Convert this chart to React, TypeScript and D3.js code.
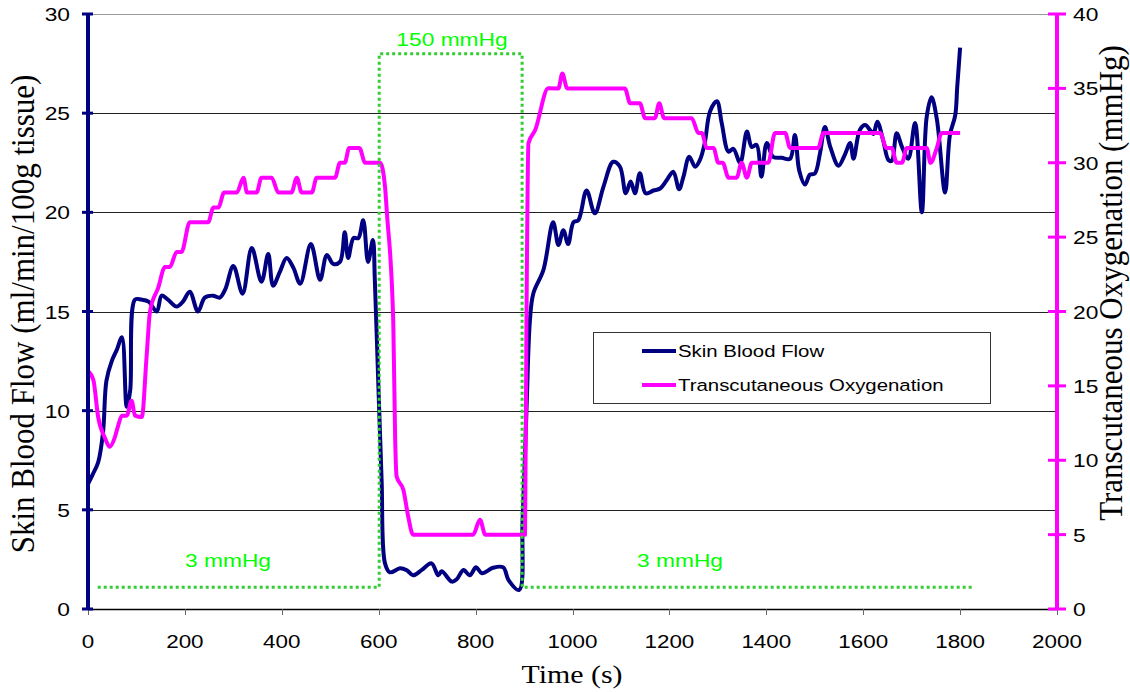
import React from "react";
import * as d3 from "d3";

// ---- data ----
const flowTime = [0, 10, 21, 31, 38, 49, 60, 70, 80, 87, 97, 110, 125, 142, 152, 165, 183, 196, 210, 227, 241, 258, 272, 283, 300, 319, 338, 358, 372, 382, 396, 410, 424, 438, 460, 479, 493, 506, 520, 530, 537, 548, 558, 568, 578, 588, 592, 599, 606, 613, 623, 644, 658, 671, 689, 709, 723, 730, 751, 761, 775, 788, 801, 813, 836, 857, 868, 890, 897, 905, 912, 919, 940, 960, 971, 981, 991, 1002, 1012, 1029, 1046, 1064, 1084, 1098, 1110, 1120, 1129, 1139, 1151, 1167, 1181, 1194, 1208, 1220, 1229, 1241, 1253, 1263, 1273, 1284, 1298, 1308, 1322, 1332, 1346, 1360, 1370, 1380, 1390, 1401, 1414, 1432, 1449, 1459, 1468, 1480, 1490, 1500, 1511, 1521, 1532, 1549, 1562, 1573, 1580, 1593, 1604, 1614, 1621, 1629, 1641, 1652, 1659, 1669, 1680, 1693, 1707, 1721, 1731, 1741, 1752, 1769, 1779, 1790, 1794, 1800];
const flowValue = [6.3, 6.8, 7.4, 8.9, 11.5, 12.5, 13.1, 13.7, 10.2, 11.0, 15.6, 15.6, 15.5, 15.0, 15.8, 15.6, 15.25, 15.5, 16.0, 15.0, 15.7, 15.8, 15.7, 16.1, 17.3, 15.9, 18.2, 16.5, 17.9, 16.3, 17.0, 17.7, 17.2, 16.4, 18.4, 16.6, 17.85, 17.4, 17.5, 19.0, 17.7, 18.7, 18.7, 19.6, 17.5, 18.6, 16.6, 11.5, 6.5, 2.3, 1.85, 2.05, 1.95, 1.7, 1.97, 2.3, 1.7, 1.9, 1.38, 1.5, 1.97, 1.7, 2.1, 1.8, 2.08, 2.1, 1.46, 0.96, 4.5, 10.0, 14.5, 15.9, 17.1, 19.5, 18.35, 19.1, 18.4, 19.5, 19.6, 21.1, 19.95, 21.3, 22.55, 22.3, 20.96, 21.55, 20.96, 21.97, 20.96, 21.1, 21.2, 21.6, 22.05, 21.16, 21.8, 22.8, 22.3, 22.64, 23.5, 25.1, 25.6, 24.5, 23.06, 23.2, 22.5, 24.07, 23.3, 23.4, 21.8, 23.5, 22.8, 22.75, 22.7, 23.9, 22.1, 21.4, 21.9, 21.95, 23.0, 24.3, 23.3, 22.35, 22.9, 23.5, 22.7, 24.15, 24.4, 24.15, 23.95, 24.57, 23.65, 22.64, 22.6, 23.99, 23.3, 22.7, 24.5, 20.0, 24.8, 25.8, 24.7, 21.0, 23.9, 24.9, 26.3, 28.3];

const oxyTime = [0, 11, 21, 35, 45, 55, 62, 70, 80, 90, 97, 111, 121, 128, 145, 159, 169, 183, 193, 210, 248, 259, 269, 281, 307, 321, 328, 348, 358, 379, 393, 420, 431, 441, 462, 472, 510, 520, 530, 539, 560, 572, 599, 603, 613, 617, 630, 634, 637, 651, 661, 671, 795, 809, 820, 902, 905, 909, 923, 950, 971, 979, 989, 1108, 1119, 1139, 1150, 1170, 1179, 1189, 1246, 1260, 1267, 1277, 1291, 1301, 1310, 1322, 1339, 1349, 1360, 1370, 1404, 1418, 1439, 1449, 1507, 1518, 1635, 1648, 1659, 1669, 1680, 1690, 1731, 1739, 1752, 1762, 1800];
const oxyValue = [16, 15.4, 12.9, 11.5, 10.9, 11.5, 12.3, 13.0, 13.0, 14.0, 13.0, 12.9, 17, 20, 21.6, 23, 23, 24, 24, 26, 26, 27, 27, 28, 28, 29, 28, 28, 29, 29, 28, 28, 29, 28, 28, 29, 29, 30, 30, 31, 31, 30, 30, 30, 28.4, 26.6, 19.4, 11.4, 8.9, 8.0, 6.2, 5, 5, 6, 5, 5, 19.4, 31.3, 32.2, 35, 35, 36, 35, 35, 34, 34, 33, 33, 34, 33, 33, 32, 32, 31, 31, 30, 30, 29, 29, 30, 29, 30, 30, 32, 32, 31, 31, 32, 32, 31, 31, 30, 30, 31, 31, 30, 31, 32, 32];

const pressureTime = [20, 601, 601, 896, 896, 1825];
const pressureValue = [1.1, 1.1, 28, 28, 1.1, 1.1];

const xTicks = [0, 200, 400, 600, 800, 1000, 1200, 1400, 1600, 1800, 2000];
const leftTicks = [0, 5, 10, 15, 20, 25, 30];
const rightTicks = [0, 5, 10, 15, 20, 25, 30, 35, 40];

const seriesNames = ["Skin Blood Flow", "Transcutaneous Oxygenation"];
const seriesColors = ["#000080", "#FF00FF"];

const SANS = "'Liberation Sans', Arial, sans-serif";
const SERIF = "'Liberation Serif', 'Times New Roman', serif";

function SText(props: any) {
  const { x, y, sx = 1.2, size, family = SANS, fill = "#000", anchor = "start", rotate, children } = props;
  return (
    <text
      transform={`translate(${x},${y}) scale(${sx},1)${rotate ? ` rotate(${rotate})` : ""}`}
      fontSize={size}
      fontFamily={family}
      fill={fill}
      textAnchor={anchor}
    >
      {children}
    </text>
  );
}

export default function App() {
  const x = d3.scaleLinear().domain([0, 2000]).range([88, 1057]);
  const yL = d3.scaleLinear().domain([0, 30]).range([609, 14]);
  const yR = d3.scaleLinear().domain([0, 40]).range([609, 14]);

  const flowPts = flowTime.map((t, i) => [t, flowValue[i]] as [number, number]);
  const oxyPts = oxyTime.map((t, i) => [t, oxyValue[i]] as [number, number]);
  const pPts = pressureTime.map((t, i) => [t, pressureValue[i]] as [number, number]);

  const flowLine = d3
    .line<[number, number]>()
    .x((d) => x(d[0]))
    .y((d) => yL(d[1]))
    .curve(d3.curveCatmullRom.alpha(0.5));
  const oxyLine = d3
    .line<[number, number]>()
    .x((d) => x(d[0]))
    .y((d) => yR(d[1]))
    .curve(d3.curveMonotoneX);
  const pLine = d3
    .line<[number, number]>()
    .x((d) => x(d[0]))
    .y((d) => yL(d[1]));

  const [x0, x1] = x.range();

  return (
    <svg
      width={1130}
      height={692}
      style={{ position: "absolute", left: 0, top: 0, background: "#fff" }}
    >
      <rect x={0} y={0} width={1130} height={692} fill="#fff" />
      {/* gridlines */}
      {leftTicks.filter((v) => v > 0).map((v) => (
        <line key={"g" + v} x1={x0} x2={x1} y1={Math.round(yL(v)) + 0.5} y2={Math.round(yL(v)) + 0.5} stroke={v === 30 ? "#999" : "#222"} strokeWidth={1} />
      ))}
      {/* x axis */}
      <line x1={x0} x2={x1} y1={609.5} y2={609.5} stroke="#000" strokeWidth={1.5} />
      {xTicks.map((t) => (
        <g key={"xt" + t}>
          <line x1={Math.round(x(t)) + 0.5} x2={Math.round(x(t)) + 0.5} y1={609} y2={615} stroke="#666" strokeWidth={1} />
          <SText x={x(t)} y={648} size={19} anchor="middle" sx={1.18}>{t}</SText>
        </g>
      ))}

      {/* series */}
      <path d={flowLine(flowPts) || ""} fill="none" stroke={seriesColors[0]} strokeWidth={4} strokeLinejoin="round" />
      <path d={oxyLine(oxyPts) || ""} fill="none" stroke={seriesColors[1]} strokeWidth={4} strokeLinejoin="round" />
      <path d={pLine(pPts) || ""} fill="none" stroke="#33CC33" strokeWidth={3} strokeDasharray="3,3" />

      {/* pressure labels */}
      <SText x={452} y={46} size={19} anchor="middle" fill="#00FF00">150 mmHg</SText>
      <SText x={228} y={567} size={19} anchor="middle" fill="#00FF00">3 mmHg</SText>
      <SText x={680} y={567} size={19} anchor="middle" fill="#00FF00">3 mmHg</SText>

      {/* left axis */}
      <line x1={88} x2={88} y1={yL(30)} y2={yL(0)} stroke={seriesColors[0]} strokeWidth={4} />
      {leftTicks.map((v) => (
        <g key={"lt" + v}>
          <line x1={82} x2={93} y1={yL(v)} y2={yL(v)} stroke={seriesColors[0]} strokeWidth={3} />
          <SText x={70} y={yL(v) + 7} size={19} anchor="end">{v}</SText>
        </g>
      ))}
      {/* right axis */}
      <line x1={1057} x2={1057} y1={yR(40)} y2={yR(0)} stroke={seriesColors[1]} strokeWidth={4} />
      {rightTicks.map((v) => (
        <g key={"rt" + v}>
          <line x1={1048} x2={1066} y1={yR(v)} y2={yR(v)} stroke={seriesColors[1]} strokeWidth={3} />
          <SText x={1073} y={yR(v) + 7} size={19} anchor="start">{v}</SText>
        </g>
      ))}

      {/* axis titles */}
      <SText x={34} y={314} size={31} family={SERIF} anchor="middle" rotate={-90} sx={1.1}>
        Skin Blood Flow (ml/min/100g tissue)
      </SText>
      <SText x={1122} y={283} size={31} family={SERIF} anchor="middle" rotate={-90} sx={1.1}>
        Transcutaneous Oxygenation (mmHg)
      </SText>
      <SText x={572} y={683} size={26} family={SERIF} anchor="middle" sx={1.15}>
        Time (s)
      </SText>

      {/* legend */}
      <rect x={593.5} y={332.5} width={397} height={71} fill="#fff" stroke="#333" strokeWidth={1} />
      {seriesNames.map((n, i) => (
        <g key={n}>
          <line x1={642} x2={676} y1={351 + i * 34} y2={351 + i * 34} stroke={seriesColors[i]} strokeWidth={4} />
          <SText x={678} y={351 + i * 34 + 6} size={17} anchor="start">{n}</SText>
        </g>
      ))}
    </svg>
  );
}
